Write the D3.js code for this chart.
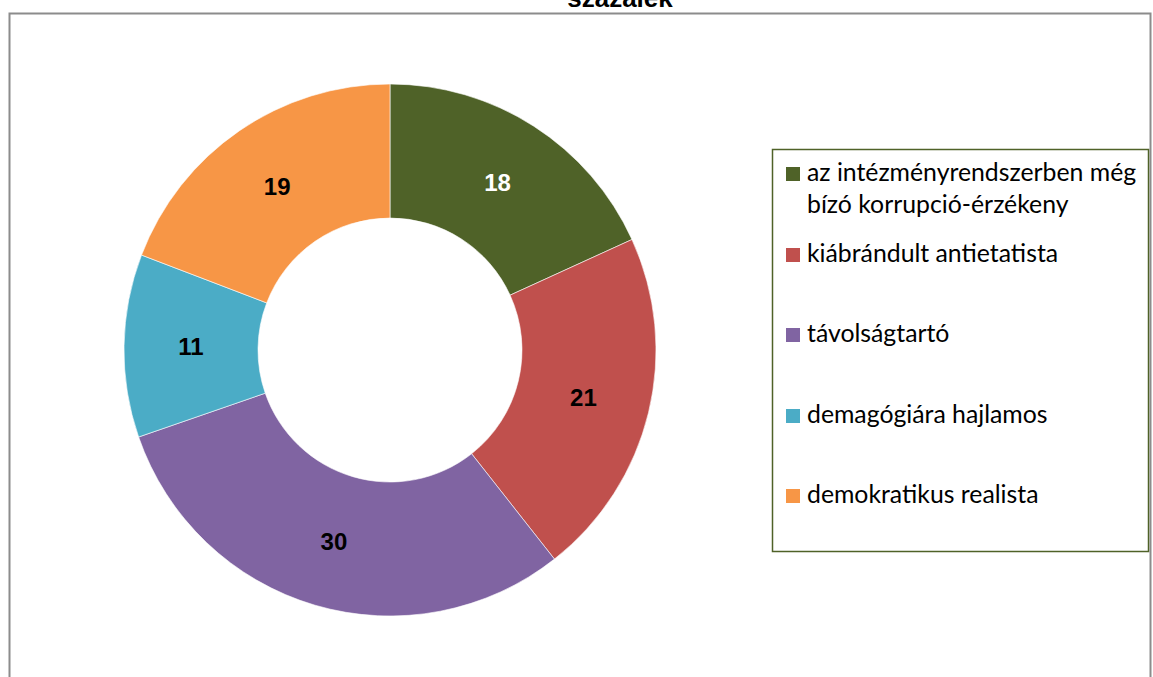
<!DOCTYPE html>
<html>
<head>
<meta charset="utf-8">
<script src="https://cdn.jsdelivr.net/npm/d3@7"></script>
<style>
  body { margin: 0; background: #fff; }
  svg { display: block; }
</style>
</head>
<body>
<svg id="chart" width="1153" height="677"></svg>
<script>
// data
const categories = ["az intézményrendszerben még bízó korrupció-érzékeny", "kiábrándult antietatista", "távolságtartó", "demagógiára hajlamos", "demokratikus realista"];
const legendLines = [["az intézményrendszerben még", "bízó korrupció-érzékeny"], ["kiábrándult antietatista"], ["távolságtartó"], ["demagógiára hajlamos"], ["demokratikus realista"]];
const values = [18, 21, 30, 11, 19];
const colors = ["#4f6228", "#c0504d", "#8064a2", "#4bacc6", "#f79646"];
const labelColors = ["#fff", "#000", "#000", "#000", "#000"];
const title = "százalék";

const svg = d3.select("#chart");

// outer chart frame
svg.append("rect")
  .attr("x", 9.5)
  .attr("y", 13.5)
  .attr("width", 1141)
  .attr("height", 700)
  .attr("fill", "none")
  .attr("stroke", "#8c8c8c")
  .attr("stroke-width", 2);

// title sits mostly above the top edge, as in the original
svg.append("text")
  .attr("x", 620)
  .attr("y", 7)
  .attr("text-anchor", "middle")
  .style("font-family", "Liberation Sans, Arial, sans-serif")
  .style("font-weight", "bold")
  .style("font-size", "26px")
  .text(title);

const cx = 390, cy = 350, outerR = 266, innerR = 132;

const pie = d3.pie().sort(null).value(d => d);
const arc = d3.arc().innerRadius(innerR).outerRadius(outerR);

const g = svg.append("g").attr("transform", "translate(" + cx + "," + cy + ")");

const slices = g.selectAll("g.slice")
  .data(pie(values))
  .enter()
  .append("g")
  .attr("class", "slice");

slices.append("path")
  .attr("d", arc)
  .attr("fill", (d, i) => colors[i])
  .attr("stroke", "#fff")
  .attr("stroke-width", 0.6);

slices.append("text")
  .attr("transform", d => "translate(" + arc.centroid(d) + ")")
  .attr("text-anchor", "middle")
  .attr("dy", ".36em")
  .style("font-family", "Liberation Sans, Arial, sans-serif")
  .style("font-weight", "bold")
  .style("font-size", "24px")
  .attr("fill", (d, i) => labelColors[i])
  .text(d => d.data);

// legend
const legend = svg.append("g").attr("transform", "translate(772,149)");

legend.append("rect")
  .attr("x", 0.5)
  .attr("y", 0.5)
  .attr("width", 376)
  .attr("height", 402)
  .attr("fill", "#fff")
  .attr("stroke", "#4f6228")
  .attr("stroke-width", 1.5);

const itemY = [32, 113, 193, 274, 354];

const items = legend.selectAll("g.item")
  .data(categories)
  .enter()
  .append("g")
  .attr("class", "item")
  .attr("transform", (d, i) => "translate(14," + itemY[i] + ")");

items.append("rect")
  .attr("x", 0)
  .attr("y", -14)
  .attr("width", 14)
  .attr("height", 14)
  .attr("fill", (d, i) => colors[i]);

items.append("text")
  .attr("x", 21)
  .attr("y", 0)
  .style("font-family", "Lato, Open Sans, sans-serif")
  .style("font-size", "24.8px")
  .attr("fill", "#000")
  .each(function (d, i) {
    const t = d3.select(this);
    legendLines[i].forEach((line, j) => {
      t.append("tspan")
        .attr("x", 21)
        .attr("dy", j === 0 ? 0 : 32)
        .text(line);
    });
  });
</script>
</body>
</html>
